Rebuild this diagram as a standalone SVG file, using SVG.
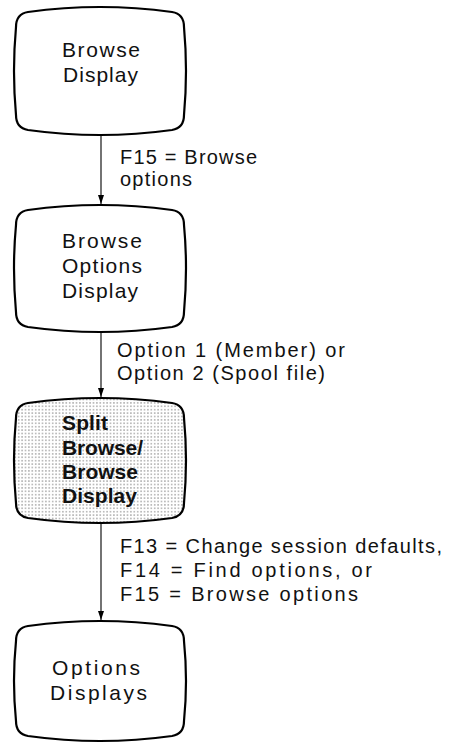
<svg xmlns="http://www.w3.org/2000/svg" width="451" height="745" viewBox="0 0 451 745">
<style>
.shape{fill:#fff;stroke:#000;stroke-width:2.2;stroke-linejoin:round}
.shaded{fill:url(#dots)}
.t{font-family:"Liberation Sans",Arial,sans-serif;font-size:21px;fill:#111}
.b{font-family:"Liberation Sans",Arial,sans-serif;font-size:21px;font-weight:bold;fill:#111}
.l{font-family:"Liberation Sans",Arial,sans-serif;font-size:20px;fill:#111}
.c{stroke:#000;stroke-width:1.1;fill:none;marker-end:url(#arr)}
</style>
<defs>
<marker id="arr" markerUnits="userSpaceOnUse" markerWidth="9" markerHeight="6" refX="9" refY="3" orient="auto" viewBox="0 0 9 6">
<path d="M0,0 L9,3 L0,6 Z" fill="#000"/>
</marker>
<pattern id="dots" width="3.4" height="3.4" patternUnits="userSpaceOnUse">
<rect width="3.4" height="3.4" fill="#fff"/>
<circle cx="1.7" cy="1.7" r="0.7" fill="#666"/>
</pattern>
</defs>
<g id="connectors">
<line class="c" x1="101" y1="135" x2="101" y2="204"/>
<line class="c" x1="101" y1="332" x2="101" y2="397"/>
<line class="c" x1="101" y1="523" x2="101" y2="620"/>
</g>
<g id="labels">
<text class="l" x="120" y="164" textLength="137" lengthAdjust="spacing">F15 = Browse</text>
<text class="l" x="120" y="186" textLength="72" lengthAdjust="spacing">options</text>
<text class="l" x="117" y="357" textLength="228" lengthAdjust="spacing">Option 1 (Member) or</text>
<text class="l" x="117" y="380" textLength="208" lengthAdjust="spacing">Option 2 (Spool file)</text>
<text class="l" x="120" y="553" textLength="322" lengthAdjust="spacing">F13 = Change session defaults,</text>
<text class="l" x="120" y="577" textLength="252" lengthAdjust="spacing">F14 = Find options, or</text>
<text class="l" x="120" y="601" textLength="238" lengthAdjust="spacing">F15 = Browse options</text>
</g>
<g id="node1">
<path class="shape" d="M28,12 Q100,2 172,12 Q184,14 184,27 Q188,71 184,115 Q184,128 172,130 Q100,140 28,130 Q16,128 16,115 Q12,71 16,27 Q16,14 28,12 Z"/>
<text class="t" x="62" y="57" textLength="78" lengthAdjust="spacing">Browse</text>
<text class="t" x="63" y="82" textLength="75" lengthAdjust="spacing">Display</text>
</g>
<g id="node2">
<path class="shape" d="M28,210 Q100,200 172,210 Q184,212 184,225 Q188,268 184,312 Q184,325 172,327 Q100,337 28,327 Q16,325 16,312 Q12,268 16,225 Q16,212 28,210 Z"/>
<text class="t" x="62" y="248" textLength="80" lengthAdjust="spacing">Browse</text>
<text class="t" x="62" y="273" textLength="80" lengthAdjust="spacing">Options</text>
<text class="t" x="62" y="298" textLength="76" lengthAdjust="spacing">Display</text>
</g>
<g id="node3">
<path class="shape shaded" d="M28,403 Q100,393 172,403 Q184,405 184,418 Q188,460 184,503 Q184,516 172,518 Q100,528 28,518 Q16,516 16,503 Q12,460 16,418 Q16,405 28,403 Z"/>
<text class="b" x="62" y="430" textLength="46" lengthAdjust="spacing">Split</text>
<text class="b" x="62" y="455" textLength="81" lengthAdjust="spacing">Browse/</text>
<text class="b" x="62" y="479" textLength="76" lengthAdjust="spacing">Browse</text>
<text class="b" x="62" y="503" textLength="75" lengthAdjust="spacing">Display</text>
</g>
<g id="node4">
<path class="shape" d="M28,626 Q100,616 172,626 Q184,628 184,641 Q188,681 184,721 Q184,734 172,736 Q100,746 28,736 Q16,734 16,721 Q12,681 16,641 Q16,628 28,626 Z"/>
<text class="t" x="52" y="675" textLength="88" lengthAdjust="spacing">Options</text>
<text class="t" x="50" y="700" textLength="97" lengthAdjust="spacing">Displays</text>
</g>
</svg>
